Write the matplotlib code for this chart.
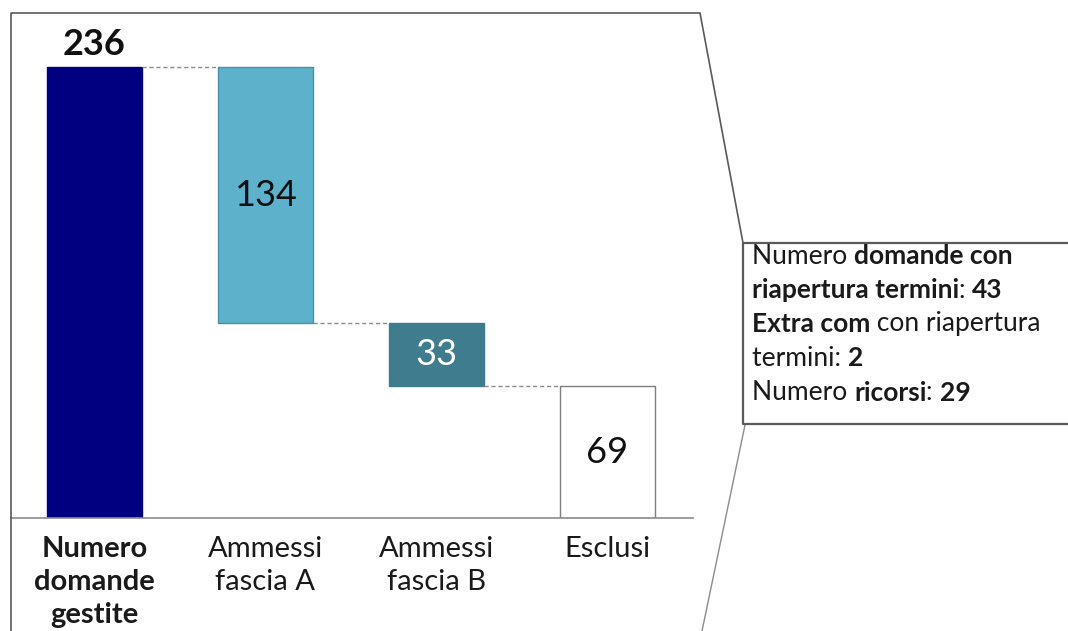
import matplotlib
matplotlib.use("Agg")
import matplotlib.pyplot as plt
from matplotlib.lines import Line2D

plt.rcParams['font.family'] = ['Lato', 'DejaVu Sans']

# data
categories = ['Numero\ndomande\ngestite', 'Ammessi\nfascia A', 'Ammessi\nfascia B', 'Esclusi']
values = [236, 134, 33, 69]
bar_colors = ['#000080', '#5DB1CB', '#3F7D8E', '#FFFFFF']
label_colors = ['#111111', '#111111', '#FFFFFF', '#111111']
note_lines = [
    [('Numero ', 'normal'), ('domande con', 'bold')],
    [('riapertura termini', 'bold'), (': ', 'normal'), ('43', 'bold')],
    [('Extra com', 'bold'), (' con riapertura', 'normal')],
    [('termini: ', 'normal'), ('2', 'bold')],
    [('Numero ', 'normal'), ('ricorsi', 'bold'), (': ', 'normal'), ('29', 'bold')],
]

W, H = 1068, 631
fig = plt.figure(figsize=(W / 100, H / 100), dpi=100)

def fx(px):
    return px / W

def fy(py):
    return 1 - py / H

# axes placed so baseline sits at y=518px, top at 13px
ax = fig.add_axes([fx(11), fy(518), fx(693) - fx(11), fy(13) - fy(518)])
ax.set_xlim(-0.488, 3.5)
ax.set_ylim(0, 264.3)

# waterfall bottoms
bottoms = [0, values[0] - values[1], values[0] - values[1] - values[2], 0]
width = 0.556
x = list(range(len(values)))
ax.bar(x, values, bottom=bottoms, width=width, color=bar_colors,
       edgecolor=['#000080', '#4A8FA5', '#3F7D8E', '#7F7F7F'], linewidth=1)

# connectors
levels = [values[0], bottoms[1], bottoms[2]]
for i in range(len(values) - 1):
    ax.plot([x[i] + width / 2, x[i + 1] - width / 2], [levels[i], levels[i]],
            color='#8C8C8C', linestyle=(0, (3, 2)), linewidth=1)

# value labels
ax.text(x[0], values[0] + 3, str(values[0]), ha='center', va='bottom',
        fontsize=26, fontweight='bold', color=label_colors[0])
for i in range(1, len(values)):
    ax.text(x[i], bottoms[i] + values[i] / 2, str(values[i]), ha='center',
            va='center', fontsize=26, color=label_colors[i])

# axes styling
for s in ['top', 'right', 'left']:
    ax.spines[s].set_visible(False)
ax.spines['bottom'].set_color('#8C8C8C')
ax.spines['bottom'].set_linewidth(1.2)
ax.set_yticks([])
ax.set_xticks(x)
ax.set_xticklabels(categories, fontsize=21, color='#1A1A1A', linespacing=1.33)
ax.tick_params(axis='x', length=0, pad=13)
ax.get_xticklabels()[0].set_fontweight('bold')
ax.patch.set_alpha(0)

# frame and callout outline
frame_col = '#5A5A5A'
fig.add_artist(Line2D([fx(11), fx(11), fx(700), fx(743)],
                      [fy(631), fy(13), fy(13), fy(243)],
                      transform=fig.transFigure, color=frame_col, linewidth=1.2))
fig.add_artist(Line2D([fx(745), fx(702)], [fy(425), fy(631)],
                      transform=fig.transFigure, color='#8C8C8C', linewidth=1))
fig.add_artist(Line2D([fx(1068), fx(743), fx(743), fx(1068)],
                      [fy(243), fy(243), fy(424), fy(424)],
                      transform=fig.transFigure, color=frame_col, linewidth=1.6))

# callout text with mixed weights
renderer = fig.canvas.get_renderer()
line_y = [256, 290, 324, 358, 393]
for runs, py in zip(note_lines, line_y):
    cx = fx(752)
    for txt, weight in runs:
        t = fig.text(cx, fy(py), txt, fontsize=19, fontweight=weight,
                     color='#1A1A1A', ha='left', va='center')
        bb = t.get_window_extent(renderer)
        cx += bb.width / W

fig.savefig('out.png', dpi=100, facecolor='white')
